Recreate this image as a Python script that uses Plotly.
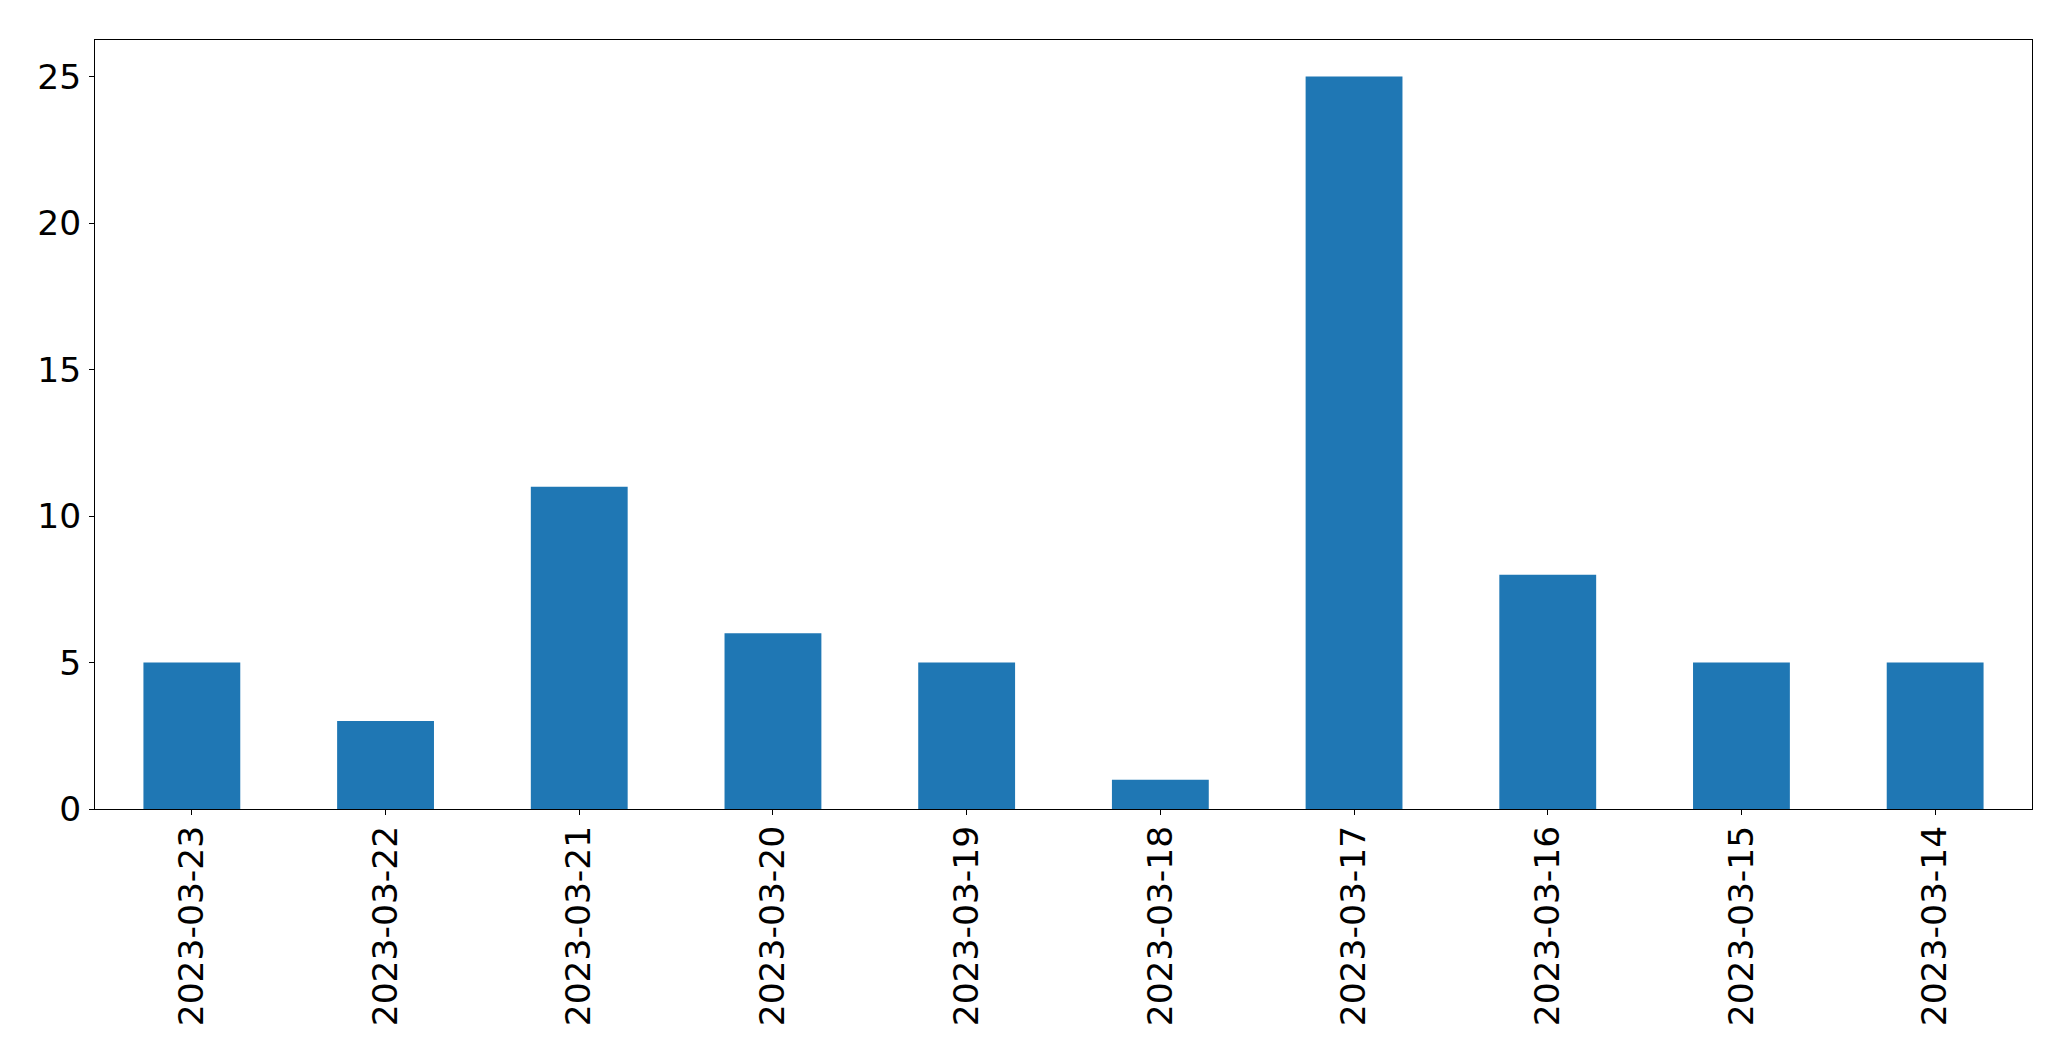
import plotly.graph_objects as go

dates = ["2023-03-23", "2023-03-22", "2023-03-21", "2023-03-20", "2023-03-19",
         "2023-03-18", "2023-03-17", "2023-03-16", "2023-03-15", "2023-03-14"]
counts = [5, 3, 11, 6, 5, 1, 25, 8, 5, 5]
y_ticks = [0, 5, 10, 15, 20, 25]

fig = go.Figure(go.Bar(x=dates, y=counts, marker=dict(color="#1f77b4", line=dict(width=0)), width=0.5))

font = dict(family="DejaVu Sans", size=34.5, color="black")
fig.update_layout(
    width=2063, height=1053,
    margin=dict(l=87, r=39, t=32, b=252, autoexpand=False),
    paper_bgcolor="white", plot_bgcolor="white",
    showlegend=False,
    font=font,
)
fig.update_xaxes(type="category", range=[-0.5, 9.5], showline=True, mirror=True,
                 linecolor="black", linewidth=1, ticks="outside", ticklen=5,
                 tickcolor="black", tickwidth=1, tickangle=-90, showgrid=False,
                 tickfont=font, ticklabelstandoff=-3)
fig.update_yaxes(range=[0, 26.25], tickvals=y_ticks, showline=True, mirror=True,
                 linecolor="black", linewidth=1, ticks="outside", ticklen=5,
                 tickcolor="black", tickwidth=1, showgrid=False, zeroline=False,
                 tickfont=font, ticklabelstandoff=1)
fig.write_html("out.html")
